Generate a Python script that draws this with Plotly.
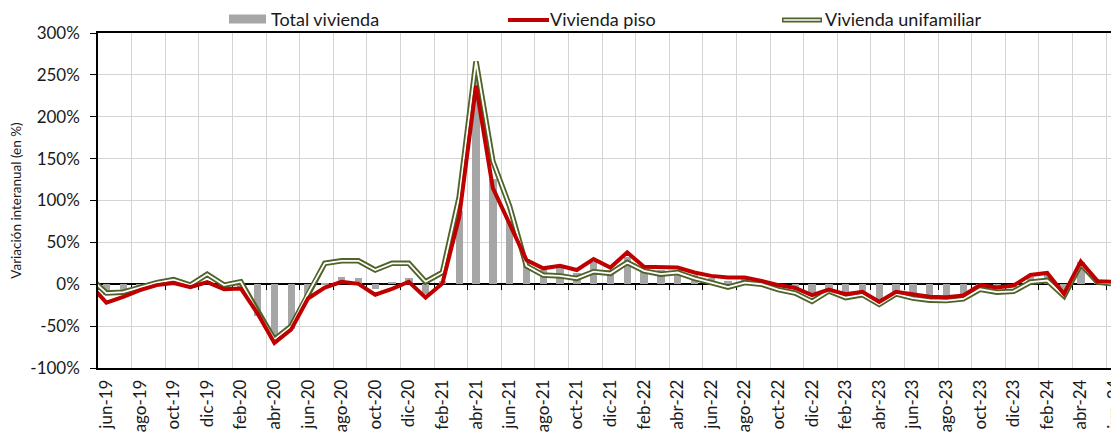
import plotly.graph_objects as go

# ---------------- data ----------------
months = ["may-19", "jun-19", "jul-19", "ago-19", "sep-19", "oct-19", "nov-19", "dic-19",
          "ene-20", "feb-20", "mar-20", "abr-20", "may-20", "jun-20", "jul-20", "ago-20",
          "sep-20", "oct-20", "nov-20", "dic-20", "ene-21", "feb-21", "mar-21", "abr-21",
          "may-21", "jun-21", "jul-21", "ago-21", "sep-21", "oct-21", "nov-21", "dic-21",
          "ene-22", "feb-22", "mar-22", "abr-22", "may-22", "jun-22", "jul-22", "ago-22",
          "sep-22", "oct-22", "nov-22", "dic-22", "ene-23", "feb-23", "mar-23", "abr-23",
          "may-23", "jun-23", "jul-23", "ago-23", "sep-23", "oct-23", "nov-23", "dic-23",
          "ene-24", "feb-24", "mar-24", "abr-24", "may-24", "jun-24"]

total = [2, -13, -10, -4, 0, 2, -2, 4,
         -4, -3, -38, -66, -53, -16, 2, 9,
         7, -6, 3, 7, -12, 4, 87, 248,
         126, 75, 30, 17, 19, 14, 27, 17,
         33, 18, 17, 17, 11, 7, 4, 6,
         3, -2, -5.5, -14, -7.5, -12, -10, -21,
         -10, -13, -15, -15, -13, -2, -5, -3,
         9, 11, -11, 26, 4, 2]

piso = [0, -22, -15, -7, -1, 1.5, -3.5, 2.5,
        -6, -5, -35, -70, -54, -17, -4, 3,
        0.5, -12.5, -5.5, 3, -16, 1, 80, 237,
        115, 73, 29, 19, 22, 17, 30, 20,
        38, 21, 20, 20, 14, 10, 8, 8,
        4, -1, -4.5, -13, -6.5, -12, -9, -21,
        -9, -12.5, -15, -15.5, -13.5, -1, -4, -1.5,
        11, 13.5, -11.5, 27, 3.5, 3]

unifamiliar = [8, -10.5, -9.5, -3.5, 2, 5.5, -1, 12,
               -1, 3, -33, -66, -50, -11, 25, 28,
               28, 17, 25, 25, 3, 14, 104, 266,
               147, 93, 22, 11, 10, 7, 15, 13,
               26, 16, 12, 14, 7, 2, -3.5, 2,
               0, -6.5, -10.5, -20.5, -8, -16, -12.5, -24,
               -11.5, -16.5, -19, -19.5, -17.5, -6, -9.5, -8.5,
               2.5, 4.5, -14, 24, 2.5, 0.5]

series_names = ["Total vivienda", "Vivienda piso", "Vivienda unifamiliar"]
y_ticks = [-100, -50, 0, 50, 100, 150, 200, 250, 300]
y_tick_labels = [f"{v}%" for v in y_ticks]
y_title = "Variación interanual (en %)"

# ---------------- layout helpers ----------------
# the page body adds an 8px margin, so the figure is drawn 8px smaller
OFF = 8
W, H = 1119 - OFF, 432 - OFF
ML, MR, MT, MB = 98 - OFF, 0, 33 - OFF, 64
PW, PH = W - ML - MR, H - MT - MB
MONTH_PX = 16.8

pos = [i - 1 for i in range(len(months))]          # jun-19 -> 0
label_pos = pos[1::2]
label_txt = months[1::2]
boundaries = [p - 0.5 for p in label_pos]
x_range = [-0.5, -0.5 + PW / MONTH_PX]

FONT = "Lato, 'Open Sans', sans-serif"
TXT = "#1a1a1a"
GRID = "#D4D4D4"
RED = "#C00000"
GREEN = "#4F6228"
GRAY = "#A6A6A6"


def px_x(px):
    """page pixel -> paper fraction"""
    return (px - OFF - ML) / PW


def px_y(py):
    return (H - MB - (py - OFF)) / PH


fig = go.Figure()
fig.add_trace(go.Bar(x=pos, y=total, width=0.44, marker=dict(color=GRAY, line=dict(width=0)),
                     name=series_names[0], showlegend=False))
fig.add_trace(go.Scatter(x=pos, y=unifamiliar, mode="lines", line=dict(color=GREEN, width=5.5),
                         name=series_names[2], showlegend=False))
fig.add_trace(go.Scatter(x=pos, y=unifamiliar, mode="lines", line=dict(color="white", width=1.8),
                         hoverinfo="skip", showlegend=False))
fig.add_trace(go.Scatter(x=pos, y=piso, mode="lines", line=dict(color=RED, width=4),
                         name=series_names[1], showlegend=False))
# invisible helper trace for the axis drawn at 0 %
fig.add_trace(go.Scatter(x=pos, y=piso, mode="lines", xaxis="x2", line=dict(width=0),
                         opacity=0, hoverinfo="skip", showlegend=False))

fig.update_layout(
    width=W, height=H,
    margin=dict(l=ML, r=MR, t=MT, b=MB, autoexpand=False),
    paper_bgcolor="white", plot_bgcolor="white",
    font=dict(family=FONT, size=17, color=TXT),
    showlegend=False,
    bargap=0,
    xaxis=dict(range=x_range, tickmode="array", tickvals=label_pos, ticktext=label_txt,
               tickangle=-90, showgrid=False, zeroline=False,
               showline=True, linecolor="black", linewidth=1.5, mirror=True,
               ticks="outside", ticklen=3, tickcolor="rgba(0,0,0,0)",
               ticklabeloverflow="allow",
               tickfont=dict(size=17, family=FONT, color=TXT), automargin=False),
    xaxis2=dict(range=x_range, overlaying="x", anchor="free", position=0.25, side="bottom",
                tickmode="array", tickvals=boundaries, showticklabels=False,
                ticks="outside", ticklen=5, tickcolor="black", tickwidth=1.3,
                showgrid=True, gridcolor=GRID, gridwidth=1.3,
                showline=True, linecolor="black", linewidth=1.5, zeroline=False,
                layer="below traces"),
    yaxis=dict(range=[-100, 300], tickmode="array", tickvals=y_ticks, ticktext=y_tick_labels,
               showgrid=True, gridcolor=GRID, gridwidth=1.3, zeroline=False,
               showline=True, linecolor="black", linewidth=1.5,
               ticks="outside", ticklen=6, tickcolor="black", ticklabelstandoff=7,
               tickfont=dict(size=17, family=FONT, color=TXT),
               title=dict(text=y_title, font=dict(size=13.5, family=FONT, color=TXT), standoff=6),
               automargin=False),
)

# ---------------- manual legend ----------------
ly = 19
LEG_FONT = dict(size=18, family=FONT, color=TXT)
shapes = [
    dict(type="rect", xref="paper", yref="paper", x0=px_x(229), x1=px_x(266),
         y0=px_y(23.5), y1=px_y(14.5), fillcolor=GRAY, line=dict(width=0)),
    dict(type="line", xref="paper", yref="paper", x0=px_x(508), x1=px_x(549),
         y0=px_y(20), y1=px_y(20), line=dict(color=RED, width=4)),
    dict(type="line", xref="paper", yref="paper", x0=px_x(782), x1=px_x(822),
         y0=px_y(20), y1=px_y(20), line=dict(color=GREEN, width=5)),
    dict(type="line", xref="paper", yref="paper", x0=px_x(783.5), x1=px_x(820.5),
         y0=px_y(20), y1=px_y(20), line=dict(color="white", width=1.6)),
]
annotations = [
    dict(text=series_names[0], x=px_x(269), y=px_y(ly), xref="paper", yref="paper",
         xanchor="left", yanchor="middle", showarrow=False, font=LEG_FONT),
    dict(text=series_names[1], x=px_x(548), y=px_y(ly), xref="paper", yref="paper",
         xanchor="left", yanchor="middle", showarrow=False, font=LEG_FONT),
    dict(text=series_names[2], x=px_x(823), y=px_y(ly), xref="paper", yref="paper",
         xanchor="left", yanchor="middle", showarrow=False, font=LEG_FONT),
]
fig.update_layout(shapes=shapes, annotations=annotations)

fig.write_html("out.html")
